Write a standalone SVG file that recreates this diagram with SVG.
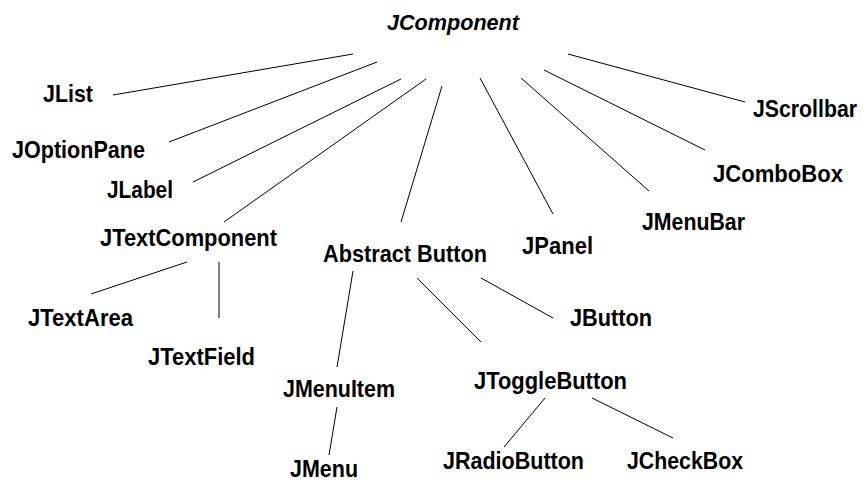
<svg xmlns="http://www.w3.org/2000/svg" width="865" height="482" viewBox="0 0 865 482">
  <style>
    .lbl { font-family: "Liberation Sans", Arial, sans-serif; font-size: 23px; font-weight: bold; fill: #000; }
    .root { font-style: italic; font-size: 22px; }
    .edge line { stroke: #000; stroke-width: 1; }
  </style>
  <rect width="865" height="482" fill="#fff"/>

  <!-- Swing class hierarchy: connectors -->
  <g id="connectors" class="edge">
    <line x1="113" y1="95" x2="353" y2="54"/>
    <line x1="169" y1="142" x2="377" y2="62"/>
    <line x1="193" y1="182" x2="401" y2="79"/>
    <line x1="224" y1="222" x2="426" y2="79"/>
    <line x1="401" y1="222" x2="442" y2="86"/>
    <line x1="480" y1="78" x2="553" y2="214"/>
    <line x1="521" y1="78" x2="649" y2="191"/>
    <line x1="544" y1="70" x2="705" y2="150"/>
    <line x1="568" y1="54" x2="745" y2="102"/>
    <line x1="91" y1="294" x2="187" y2="262"/>
    <line x1="219" y1="262" x2="219" y2="318"/>
    <line x1="353" y1="271" x2="337" y2="367"/>
    <line x1="337" y1="407" x2="329" y2="455"/>
    <line x1="417" y1="278" x2="481" y2="342"/>
    <line x1="481" y1="278" x2="553" y2="318"/>
    <line x1="545" y1="398" x2="504" y2="447"/>
    <line x1="592" y1="398" x2="673" y2="438"/>
  </g>

  <!-- Nodes -->
  <g id="jcomponent"><text class="lbl root" x="387" y="30" textLength="132" lengthAdjust="spacingAndGlyphs">JComponent</text></g>
  <g id="jlist"><text class="lbl" x="43" y="102" textLength="50" lengthAdjust="spacingAndGlyphs">JList</text></g>
  <g id="joptionpane"><text class="lbl" x="12" y="158" textLength="133" lengthAdjust="spacingAndGlyphs">JOptionPane</text></g>
  <g id="jlabel"><text class="lbl" x="107" y="198" textLength="66" lengthAdjust="spacingAndGlyphs">JLabel</text></g>
  <g id="jtextcomponent"><text class="lbl" x="100" y="246" textLength="177" lengthAdjust="spacingAndGlyphs">JTextComponent</text></g>
  <g id="abstractbutton"><text class="lbl" x="323" y="262" textLength="164" lengthAdjust="spacingAndGlyphs">Abstract Button</text></g>
  <g id="jpanel"><text class="lbl" x="522" y="254" textLength="71" lengthAdjust="spacingAndGlyphs">JPanel</text></g>
  <g id="jmenubar"><text class="lbl" x="642" y="230" textLength="103" lengthAdjust="spacingAndGlyphs">JMenuBar</text></g>
  <g id="jcombobox"><text class="lbl" x="713" y="182" textLength="130" lengthAdjust="spacingAndGlyphs">JComboBox</text></g>
  <g id="jscrollbar"><text class="lbl" x="753" y="117" textLength="104" lengthAdjust="spacingAndGlyphs">JScrollbar</text></g>
  <g id="jtextarea"><text class="lbl" x="28" y="326" textLength="105" lengthAdjust="spacingAndGlyphs">JTextArea</text></g>
  <g id="jtextfield"><text class="lbl" x="148" y="365" textLength="107" lengthAdjust="spacingAndGlyphs">JTextField</text></g>
  <g id="jmenuitem"><text class="lbl" x="283" y="397" textLength="112" lengthAdjust="spacingAndGlyphs">JMenuItem</text></g>
  <g id="jmenu"><text class="lbl" x="290" y="477" textLength="68" lengthAdjust="spacingAndGlyphs">JMenu</text></g>
  <g id="jbutton"><text class="lbl" x="570" y="326" textLength="82" lengthAdjust="spacingAndGlyphs">JButton</text></g>
  <g id="jtogglebutton"><text class="lbl" x="474" y="389" textLength="153" lengthAdjust="spacingAndGlyphs">JToggleButton</text></g>
  <g id="jradiobutton"><text class="lbl" x="443" y="469" textLength="141" lengthAdjust="spacingAndGlyphs">JRadioButton</text></g>
  <g id="jcheckbox"><text class="lbl" x="627" y="469" textLength="116" lengthAdjust="spacingAndGlyphs">JCheckBox</text></g>
</svg>
